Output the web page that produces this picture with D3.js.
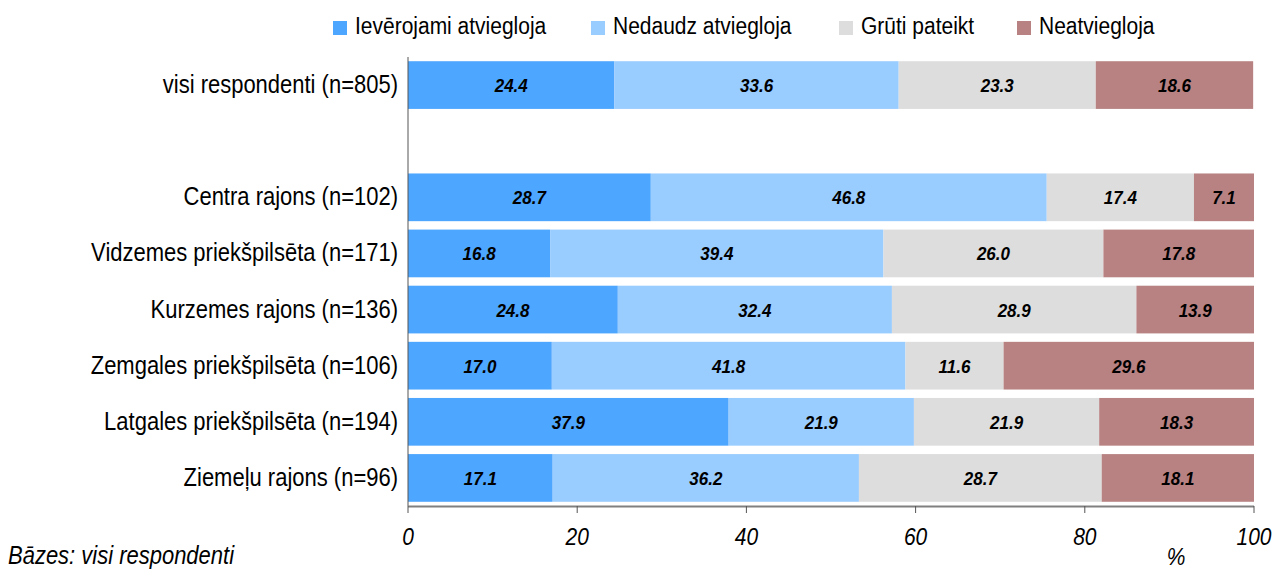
<!DOCTYPE html>
<html lang="lv">
<head>
    <meta charset="UTF-8">
    <title>Atvieglojums pa rajoniem</title>
    <script src="https://d3js.org/d3.v7.min.js"></script>
    <style>
        body { margin: 0; background: #fff; }
        svg { font-family: "Liberation Sans", Arial, sans-serif; }
        .cat { font-size: 22px; fill: #000; }
        .val { font-size: 17px; font-weight: bold; font-style: italic; fill: #000; }
        .tick-lbl { font-size: 21px; font-style: italic; fill: #000; }
        .leg { font-size: 21px; fill: #000; }
    </style>
</head>
<body>
<svg width="1276" height="571"></svg>
<script>
    // data
    const categories = ["visi respondenti (n=805)", "", "Centra rajons (n=102)", "Vidzemes priekšpilsēta (n=171)",
        "Kurzemes rajons (n=136)", "Zemgales priekšpilsēta (n=106)", "Latgales priekšpilsēta (n=194)", "Ziemeļu rajons (n=96)"];
    const seriesNames = ["Ievērojami atviegloja", "Nedaudz atviegloja", "Grūti pateikt", "Neatviegloja"];
    const ieverojami = [24.4, null, 28.7, 16.8, 24.8, 17.0, 37.9, 17.1];
    const nedaudz    = [33.6, null, 46.8, 39.4, 32.4, 41.8, 21.9, 36.2];
    const gruti      = [23.3, null, 17.4, 26.0, 28.9, 11.6, 21.9, 28.7];
    const neatvieg   = [18.6, null, 7.1, 17.8, 13.9, 29.6, 18.3, 18.1];
    const xTicks = [0, 20, 40, 60, 80, 100];
    const colors = ["#4da6ff", "#99ccff", "#dddddd", "#b88282"];

    const svg = d3.select("svg");
    const mLeft = 408, mRight = 1254, mTop = 57, mBottom = 506;
    const sy = 1.15; // text in the original looks a bit taller than wide

    const x = d3.scaleLinear().domain([0, 100]).range([mLeft, mRight]);
    const y = d3.scaleBand().domain(d3.range(categories.length)).range([mTop, mBottom]).paddingInner(0.15).paddingOuter(0.075);

    const series = [ieverojami, nedaudz, gruti, neatvieg];
    const rows = categories.map((c, i) => {
        const r = { idx: i };
        series.forEach((s, k) => r["s" + k] = s[i] || 0);
        return r;
    }).filter(r => categories[r.idx] !== "");
    const stacked = d3.stack().keys(["s0", "s1", "s2", "s3"])(rows);

    const g = svg.append("g");
    stacked.forEach((layer, k) => {
        g.selectAll(null)
            .data(layer)
            .join("rect")
            .attr("x", d => x(d[0]))
            .attr("y", d => y(d.data.idx))
            .attr("width", d => x(Math.min(d[1], 100)) - x(d[0]))
            .attr("height", y.bandwidth())
            .attr("fill", colors[k]);
        g.selectAll(null)
            .data(layer)
            .join("text")
            .attr("class", "val")
            .attr("text-anchor", "middle")
            .attr("transform", d => `translate(${(x(d[0]) + x(Math.min(d[1], 100))) / 2},${y(d.data.idx) + y.bandwidth() / 2 + 7}) scale(1,1.1)`)
            .text(d => (d[1] - d[0]).toFixed(1));
    });

    // category labels
    svg.selectAll(".cat")
        .data(categories)
        .join("text")
        .attr("class", "cat")
        .attr("text-anchor", "end")
        .attr("transform", (d, i) => `translate(${mLeft - 10},${y(i) + y.bandwidth() / 2 + 8}) scale(1,${sy})`)
        .text(d => d);

    // axes
    svg.append("line").attr("x1", mLeft).attr("x2", mLeft).attr("y1", mTop).attr("y2", mBottom)
        .attr("stroke", "#555").attr("stroke-width", 1);
    svg.append("line").attr("x1", mLeft).attr("x2", mRight).attr("y1", mBottom + 0.5).attr("y2", mBottom + 0.5)
        .attr("stroke", "#808080").attr("stroke-width", 2);
    svg.selectAll(".tk")
        .data(xTicks)
        .join("line")
        .attr("class", "tk")
        .attr("x1", d => x(d)).attr("x2", d => x(d))
        .attr("y1", mBottom).attr("y2", mBottom + 7)
        .attr("stroke", "#555");
    svg.selectAll(".tick-lbl")
        .data(xTicks)
        .join("text")
        .attr("class", "tick-lbl")
        .attr("text-anchor", "middle")
        .attr("transform", d => `translate(${x(d)},545) scale(1,${sy})`)
        .text(d => d);

    svg.append("text").attr("class", "tick-lbl").attr("text-anchor", "middle")
        .attr("transform", `translate(1176,565) scale(1,${sy})`).text("%");
    svg.append("text").attr("class", "tick-lbl").style("font-size", "22px")
        .attr("transform", `translate(8,564) scale(1,${sy})`).text("Bāzes: visi respondenti");

    // legend
    const legX = [333, 591, 839, 1017];
    const leg = svg.selectAll(".legitem")
        .data(seriesNames)
        .join("g")
        .attr("class", "legitem")
        .attr("transform", (d, i) => `translate(${legX[i]},0)`);
    leg.append("rect").attr("x", 0).attr("y", 21).attr("width", 14).attr("height", 14).attr("fill", (d, i) => colors[i]);
    leg.append("text").attr("class", "leg").attr("transform", `translate(22,34) scale(1,${sy})`).text(d => d);
</script>
</body>
</html>
